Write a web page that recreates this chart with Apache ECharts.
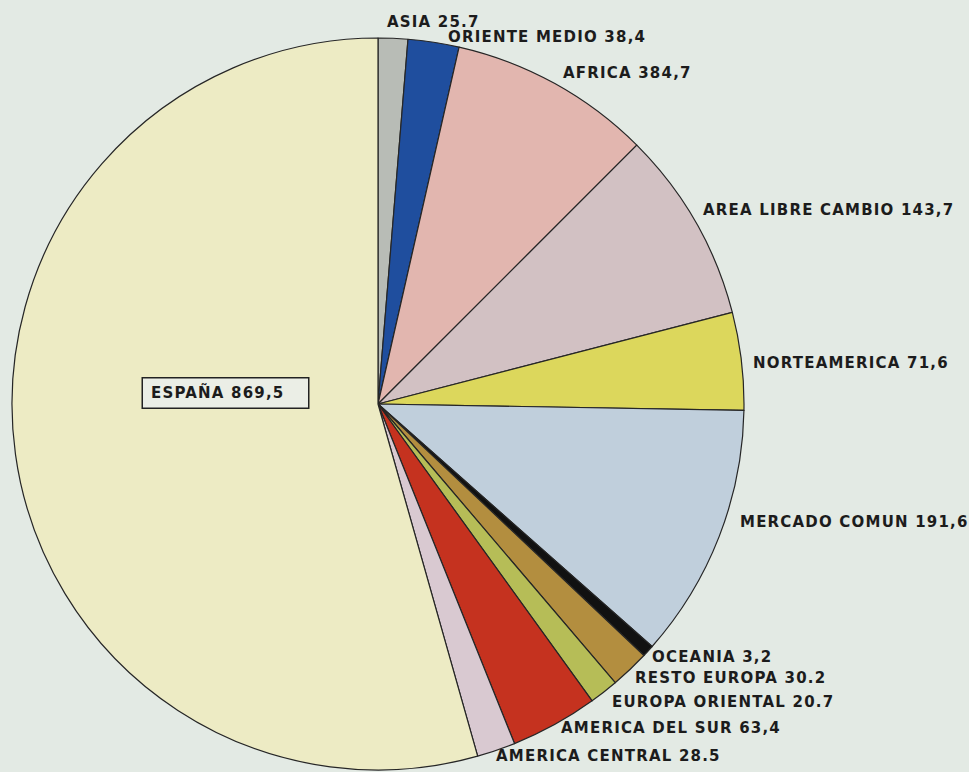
<!DOCTYPE html>
<html>
<head>
<meta charset="utf-8">
<script src="https://cdn.jsdelivr.net/npm/echarts@6/dist/echarts.min.js"></script>
<style>
html,body{margin:0;padding:0;background:#E3EAE4;}
#c{width:969px;height:772px;}
#c svg text{letter-spacing:1.2px;}
</style>
</head>
<body>
<div id="c"></div>
<script>
// Categories (clockwise from 12 o'clock)
const categories = ['ASIA','ORIENTE MEDIO','AFRICA','AREA LIBRE CAMBIO','NORTEAMERICA','MERCADO COMUN','OCEANIA','RESTO EUROPA','EUROPA ORIENTAL','AMERICA DEL SUR','AMERICA CENTRAL','ESPAÑA'];
// Values printed on the labels
const labelValues = ['25.7','38,4','384,7','143,7','71,6','191,6','3,2','30.2','20.7','63,4','28.5','869,5'];
// Slice sizes as drawn in the picture (degrees of arc)
const sliceShares = [4.7, 8.1, 32.2, 30.5, 15.5, 40.5, 1.9, 6.2, 4.6, 13.9, 6.1, 195.8];

// Styles / layout (not data)
const colors = ['#B8BCB6','#1F4E9E','#E2B6AF','#D2C1C3','#DCD75C','#C0CFDC','#111111','#B38E3F','#B6BD57','#C5321F','#D9C9D1','#EDEBC4'];
const labelPos = [[387,22],[448,37],[563,73],[703,210],[753,363],[740,522],[652,657],[635,678],[612,702],[561,728],[496,756],[143,393]];

const data = categories.map((n,i)=>({
  name:n, value:sliceShares[i], itemStyle:{color:colors[i]},
  label: i===11 ? {backgroundColor:'#EBEEE6', borderColor:'#222', borderWidth:1.5, padding:[6,7,5,8], width:150, lineHeight:18} : {}
}));

const chart = echarts.init(document.getElementById('c'), null, {renderer:'svg'});
chart.setOption({
  backgroundColor:'#E3EAE4',
  animation:false,
  series:[{
    type:'pie',
    center:[378,404],
    radius:366,
    startAngle:90,
    clockwise:true,
    avoidLabelOverlap:false,
    itemStyle:{borderColor:'#262626', borderWidth:1.2},
    label:{
      show:true,
      position:'outside',
      color:'#1c1c1c',
      fontFamily:'DejaVu Sans',
      fontWeight:'bold',
      fontSize:15,
      formatter:p=>p.name+' '+labelValues[p.dataIndex]
    },
    labelLine:{show:false},
    labelLayout:function(p){
      const pos = labelPos[p.dataIndex];
      return {x:pos[0], y:pos[1], align:'left', verticalAlign:'middle', moveOverlap:null};
    },
    data:data
  }]
});
</script>
</body>
</html>
